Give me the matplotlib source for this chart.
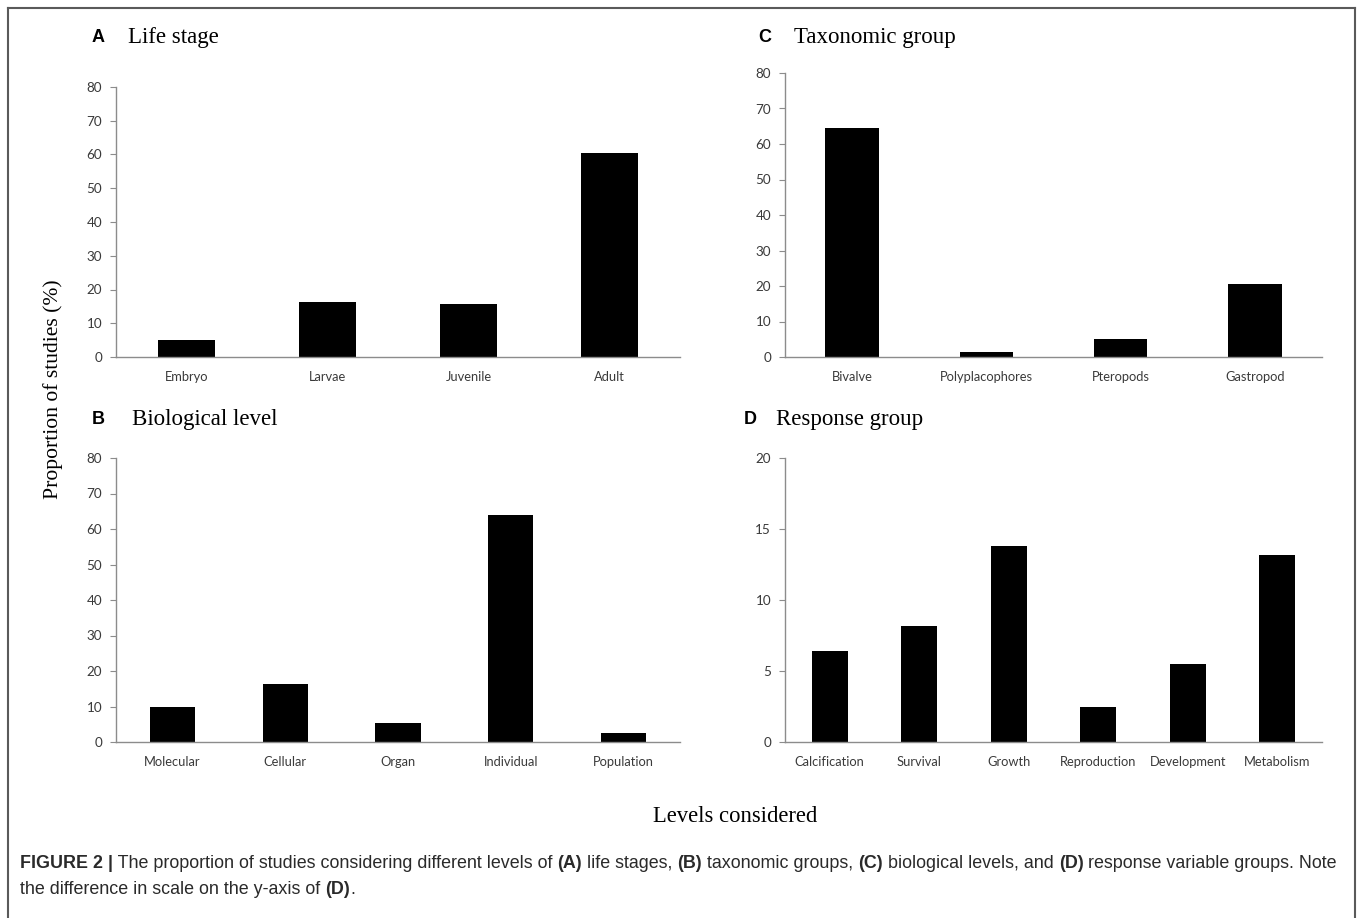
import matplotlib
matplotlib.use("Agg")
import matplotlib.pyplot as plt
from matplotlib.lines import Line2D

# ---------------- data ----------------
life_stage = ["Embryo", "Larvae", "Juvenile", "Adult"]
life_vals = [5.0, 16.3, 15.6, 60.5]

taxon = ["Bivalve", "Polyplacophores", "Pteropods", "Gastropod"]
taxon_vals = [64.6, 1.5, 5.0, 20.7]

bio_level = ["Molecular", "Cellular", "Organ", "Individual", "Population"]
bio_vals = [9.8, 16.2, 5.3, 63.9, 2.5]

response = ["Calcification", "Survival", "Growth", "Reproduction", "Development", "Metabolism"]
response_vals = [6.4, 8.2, 13.8, 2.5, 5.5, 13.2]

ticks_80 = [0, 10, 20, 30, 40, 50, 60, 70, 80]
ticks_20 = [0, 5, 10, 15, 20]

W, H = 1358, 918
fig = plt.figure(figsize=(W / 100, H / 100), dpi=100)
fig.patch.set_facecolor("white")

def px_axes(x0, x1, ytop, ybot):
    return fig.add_axes([x0 / W, 1 - ybot / H, (x1 - x0) / W, (ybot - ytop) / H])

AX_GRAY = "#8c8c8c"
TICK_COL = "#3a3a3a"

def style(ax, cats, vals, ymax, yticks):
    x = range(len(cats))
    ax.bar(x, vals, width=0.4, color="black", edgecolor="black", linewidth=0)
    ax.set_xlim(-0.5, len(cats) - 0.5)
    ax.set_ylim(0, ymax)
    ax.set_yticks(yticks)
    ax.set_xticks(list(x))
    ax.set_xticklabels(cats, fontfamily="Lato", fontsize=9.3, color=TICK_COL)
    ax.set_yticklabels([str(t) for t in yticks], fontfamily="Lato", fontsize=9.7, color=TICK_COL)
    for s in ("top", "right"):
        ax.spines[s].set_visible(False)
    for s in ("left", "bottom"):
        ax.spines[s].set_color(AX_GRAY)
        ax.spines[s].set_linewidth(1.0)
    ax.tick_params(axis="y", length=4, color=AX_GRAY, pad=6)
    ax.tick_params(axis="x", length=0, pad=10)
    ax.set_facecolor("none")

axA = px_axes(116, 680, 87, 357)
style(axA, life_stage, life_vals, 80, ticks_80)
axC = px_axes(785, 1322, 73, 357)
style(axC, taxon, taxon_vals, 80, ticks_80)
axB = px_axes(116, 680, 458, 742)
style(axB, bio_level, bio_vals, 80, ticks_80)
axD = px_axes(785, 1322, 458, 742)
style(axD, response, response_vals, 20, ticks_20)

def ftxt(x, y, s, **kw):
    fig.text(x / W, 1 - y / H, s, **kw)

SERIF = "Liberation Serif"
panel_titles = [("A", "Life stage", 98, 128, 37),
                ("C", "Taxonomic group", 765, 794, 37),
                ("B", "Biological level", 98, 132, 420),
                ("D", "Response group", 750, 776, 420)]
for letter, title, lx, tx, y in panel_titles:
    ftxt(lx, y, letter, fontfamily="Liberation Sans", fontweight="bold", fontsize=13,
         ha="center", va="center", color="black")
    ftxt(tx, y, title, fontfamily=SERIF, fontsize=16.5, ha="left", va="center", color="black")

ftxt(53, 389, "Proportion of studies (%)", fontfamily=SERIF, fontsize=15.6,
     rotation=90, ha="center", va="center", color="black")
ftxt(735, 816, "Levels considered", fontfamily=SERIF, fontsize=16.3,
     ha="center", va="center", color="black")

# frame
FRAME = "#5a5a5a"
fig.add_artist(Line2D([8 / W, 8 / W], [0, 1 - 8 / H], transform=fig.transFigure, color=FRAME, lw=1.5))
fig.add_artist(Line2D([1355 / W, 1355 / W], [0, 1 - 8 / H], transform=fig.transFigure, color=FRAME, lw=1.5))
fig.add_artist(Line2D([8 / W, 1355 / W], [1 - 8 / H, 1 - 8 / H], transform=fig.transFigure, color=FRAME, lw=1.5))

# caption with mixed bold runs
renderer = fig.canvas.get_renderer()
CAP_COL = "#2a2a2a"
CAP_FS = 12.85

def run_width(s, bold):
    t1 = fig.text(0, 0, "X" + s + "X", fontfamily="Liberation Sans", fontsize=CAP_FS,
                  fontweight="bold" if bold else "normal")
    t2 = fig.text(0, 0, "XX", fontfamily="Liberation Sans", fontsize=CAP_FS,
                  fontweight="bold" if bold else "normal")
    w = t1.get_window_extent(renderer).width - t2.get_window_extent(renderer).width
    t1.remove(); t2.remove()
    return w

def draw_runs(x, y, runs):
    for s, bold in runs:
        ftxt(x, y, s, fontfamily="Liberation Sans", fontsize=CAP_FS,
             fontweight="bold" if bold else "normal", color=CAP_COL, ha="left", va="baseline")
        x += run_width(s, bold)

line1 = [("FIGURE 2 |", True), (" The proportion of studies considering different levels of ", False),
         ("(A)", True), (" life stages, ", False), ("(B)", True), (" taxonomic groups, ", False),
         ("(C)", True), (" biological levels, and ", False), ("(D)", True),
         (" response variable groups. Note", False)]
line2 = [("the difference in scale on the y-axis of ", False), ("(D)", True), (".", False)]
draw_runs(20, 868, line1)
draw_runs(20, 894, line2)

fig.savefig("out.png", dpi=100, facecolor="white")
